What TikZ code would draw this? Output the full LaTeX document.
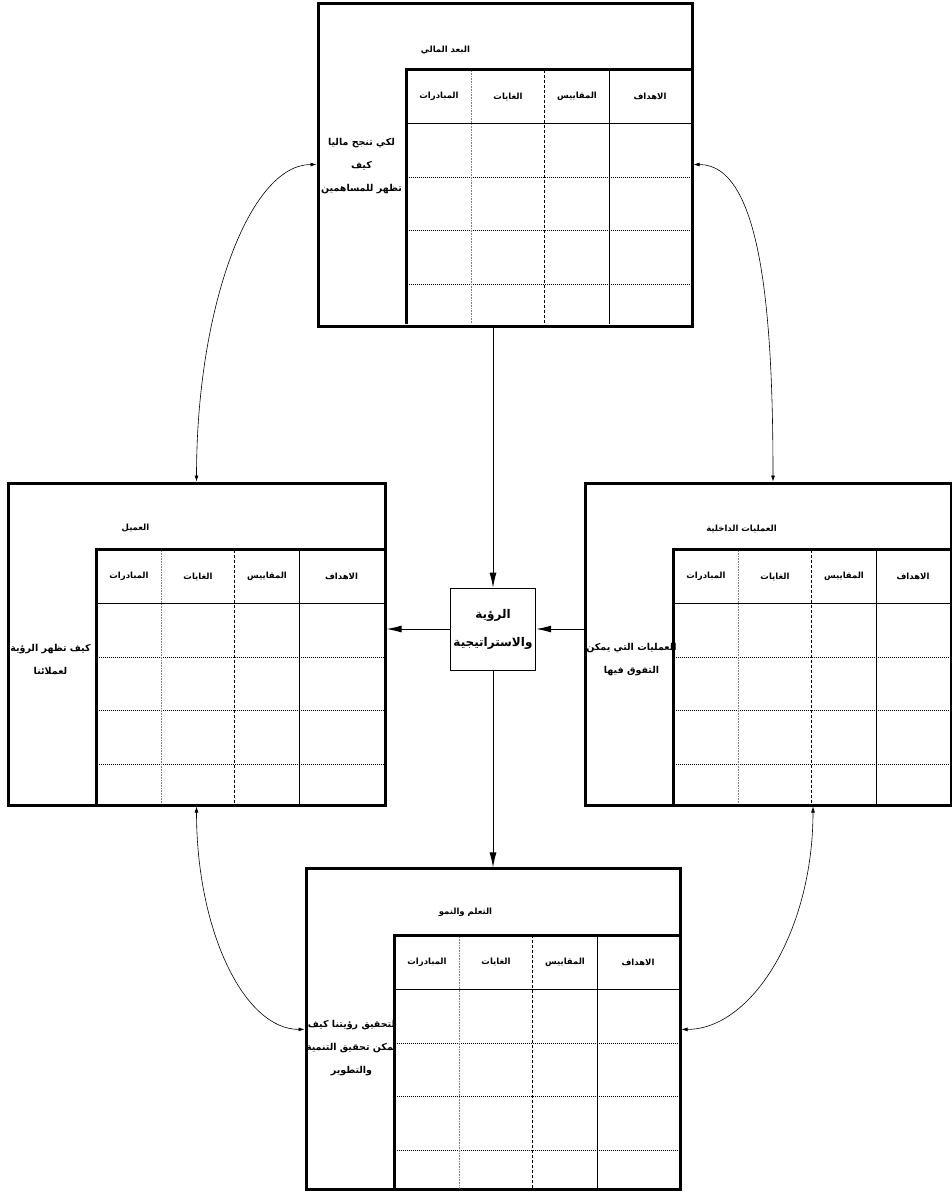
\documentclass[tikz,border=0pt]{standalone}
\usepackage{fontspec}
\usepackage{tikz}
\usetikzlibrary{arrows.meta, positioning}
\TeXXeTstate=1
\newfontfamily\arabicfont[Script=Arabic, BoldFont={DejaVu Sans Bold}]{DejaVu Sans}
\newcommand{\artxt}[1]{\beginR #1\endR}

% grid of one perspective: #1 panel node, #2 panel width
\newcommand{\bscgrid}[2]{%
  \begin{scope}[shift={(#1.north west)}]
    \draw[line width=0.8pt] (90,122) -- (#2,122);
    \draw[rowline] (90,176) -- (#2,176);
    \draw[rowline] (90,229) -- (#2,229);
    \draw[rowline] (90,283) -- (#2,283);
    \draw[gray, densely dotted, line width=0.6pt] (155,68) -- (155,322);
    \draw[dash pattern=on 3pt off 2pt, line width=0.8pt] (228,68) -- (228,322);
    \draw[line width=0.8pt] (293,68) -- (293,322);
    \draw[line width=3pt] (#2,68) -- (90,68) -- (90,322);
    \node[head] (#1-h1) at (122.5,95) {\artxt{المبادرات}};
    \node[head] (#1-h2) at (191.5,95) {\artxt{الغايات}};
    \node[head] (#1-h3) at (260.5,95) {\artxt{المقاييس}};
    \node[head] (#1-h4) at ({(#2+293)/2},95) {\artxt{الاهداف}};
  \end{scope}}

\begin{document}
\begin{tikzpicture}[x=1pt, y=-1pt,
  panel/.style={draw, line width=3pt, inner sep=0pt},
  rowline/.style={densely dotted, line width=1pt},
  head/.style={font=\arabicfont\bfseries\fontsize{8.5}{10}\selectfont, inner sep=1pt},
  title/.style={font=\arabicfont\bfseries\fontsize{8.5}{10}\selectfont, inner sep=1pt},
  side/.style={font=\arabicfont\bfseries\fontsize{9.5}{23}\selectfont, align=center, inner sep=1pt},
  bigarrow/.style={-{Latex[length=15pt,width=7pt]}, line width=0.9pt},
  link/.style={{Latex[length=6pt,width=4pt]}-{Latex[length=6pt,width=4pt]}, line width=0.6pt}]
\useasboundingbox (0,0) rectangle (951,1192);

\node[draw, line width=0.8pt, minimum width=85pt, minimum height=82pt,
  align=center, font=\arabicfont\bfseries\fontsize{12}{28}\selectfont] (vision) at (493,629)
  {\artxt{الرؤية}\\\artxt{والاستراتيجية}};

\node[panel, minimum width=374pt, minimum height=323pt] (fin) at (505,164.5) {};
\node[panel, minimum width=377pt, minimum height=322pt] (cust) at (196.5,644) {};
\node[panel, minimum width=366pt, minimum height=322pt] (proc) at (768,644) {};
\node[panel, minimum width=374pt, minimum height=321pt, below=197pt of vision] (learn) {};

\bscgrid{fin}{374}
\bscgrid{cust}{377}
\bscgrid{proc}{366}
\bscgrid{learn}{374}

\node[title] (fin-t) at ([shift={(129,49)}]fin.north west) {\artxt{البعد المالي}};
\node[title] (cust-t) at ([shift={(129,47)}]cust.north west) {\artxt{العميل}};
\node[title] (proc-t) at ([shift={(158,47)}]proc.north west) {\artxt{العمليات الداخلية}};
\node[title] (learn-t) at ([shift={(161,45)}]learn.north west) {\artxt{التعلم والنمو}};

\node[side] (fin-s) at ([shift={(45,165)}]fin.north west)
  {\artxt{لكي تنجح ماليا}\\\artxt{كيف}\\\artxt{تظهر للمساهمين}};
\node[side] (cust-s) at ([shift={(44,178)}]cust.north west)
  {\artxt{كيف تظهر الرؤية}\\\artxt{لعملائنا}};
\node[side] (proc-s) at ([shift={(48,178)}]proc.north west)
  {\artxt{العمليات التي يمكن}\\\artxt{التفوق فيها}};
\node[side] (learn-s) at ([shift={(47,181)}]learn.north west)
  {\artxt{لتحقيق رؤيتنا كيف}\\\artxt{يمكن تحقيق التنمية}\\\artxt{والتطوير}};

% vision in the middle
\draw[bigarrow] (vision.north |- fin.south) -- (vision.north);
\draw[bigarrow] (vision.south) -- (learn.north);
\draw[bigarrow] (vision.west) -- (vision.west -| cust.east);
\draw[bigarrow] (vision.east -| proc.west) -- (vision.east);

% links between perspectives
\draw[link] (fin.west) .. controls +(-67,0) and +(0,-174) .. (cust.north);
\draw[link] (fin.east) .. controls +(67,0) and +(0,-174) .. ([xshift=5pt]proc.north);
\draw[link] (cust.south) .. controls +(0,125) and +(-60,0) .. (learn.west);
\draw[link] ([xshift=45pt]proc.south) .. controls +(0,125) and +(70,0) .. (learn.east);
\end{tikzpicture}
\end{document}
